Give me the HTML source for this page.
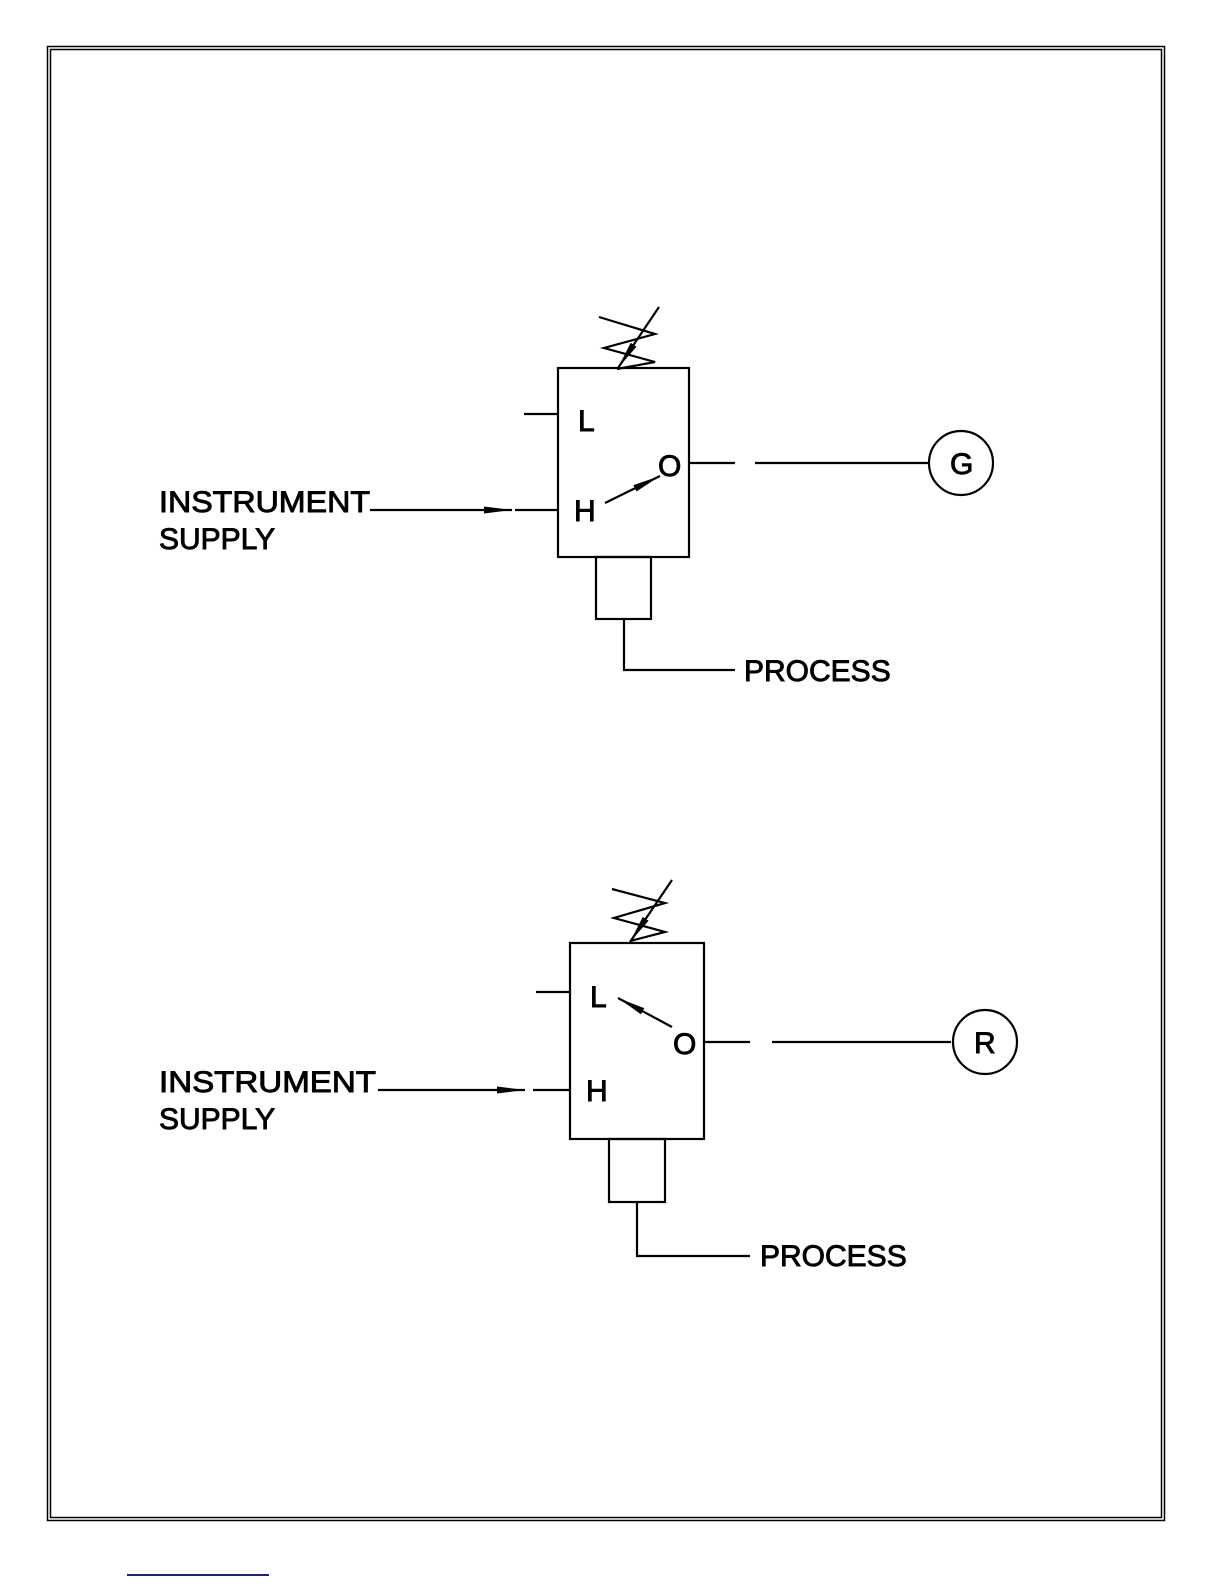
<!DOCTYPE html>
<html><head><style>body{margin:0;background:#fff}svg{display:block}</style></head><body>
<svg width="1224" height="1584" viewBox="0 0 1224 1584" xmlns="http://www.w3.org/2000/svg" font-family="Liberation Sans, Arial, sans-serif">
<rect x="47.5" y="46.5" width="1117" height="1474" fill="none" stroke="#000" stroke-width="1.5"/>
<rect x="50.5" y="49.5" width="1111" height="1468" fill="none" stroke="#000" stroke-width="1.5"/>
<line x1="127" y1="1575" x2="269" y2="1575" stroke="#1a237e" stroke-width="2"/>
<defs>
<marker id="b" markerWidth="28" markerHeight="10" refX="28" refY="5" orient="auto" markerUnits="userSpaceOnUse"><path d="M0,1.5 L28,5 L0,8.5z" fill="#000"/></marker></defs>
<g stroke="#000" stroke-width="2.2" fill="none">
<!-- top -->
<polyline points="599,317 655,334 604,348 655,362 617,369"/>
<line x1="659" y1="307" x2="618" y2="368" marker-end="url(#b)"/>
<rect x="558" y="368" width="131" height="189"/>
<line x1="524" y1="414" x2="558" y2="414"/>
<line x1="515" y1="510" x2="558" y2="510"/>
<line x1="370" y1="510" x2="512" y2="510" marker-end="url(#b)"/>
<line x1="605" y1="503" x2="660" y2="476" marker-end="url(#b)"/>
<line x1="689" y1="463" x2="735" y2="463"/>
<line x1="755" y1="463" x2="928" y2="463"/>
<circle cx="961" cy="463" r="32"/>
<rect x="596" y="557" width="55" height="62"/>
<polyline points="624,619 624,670 735,670"/>
<!-- bottom -->
<polyline points="612,889 665,903 614,918 665,932 630,941"/>
<line x1="672" y1="880" x2="630" y2="942" marker-end="url(#b)"/>
<rect x="570" y="943" width="134" height="196"/>
<line x1="536" y1="992" x2="570" y2="992"/>
<line x1="533" y1="1090" x2="570" y2="1090"/>
<line x1="378" y1="1090" x2="525" y2="1090" marker-end="url(#b)"/>
<line x1="672" y1="1027" x2="618" y2="998" marker-end="url(#b)"/>
<line x1="704" y1="1042" x2="750" y2="1042"/>
<line x1="772" y1="1042" x2="951" y2="1042"/>
<circle cx="985" cy="1042" r="32"/>
<rect x="609" y="1139" width="56" height="63"/>
<polyline points="637,1202 637,1256 750,1256"/>
</g>
<g font-size="30" fill="#000" stroke="#000" stroke-width="0.9">
<text x="159" y="512" textLength="211" lengthAdjust="spacingAndGlyphs">INSTRUMENT</text>
<text x="159" y="549">SUPPLY</text>
<text x="578" y="431">L</text>
<text x="574" y="521">H</text>
<text x="658" y="476">O</text>
<text x="950" y="474">G</text>
<text x="744" y="681">PROCESS</text>
<text x="159" y="1092" textLength="217" lengthAdjust="spacingAndGlyphs">INSTRUMENT</text>
<text x="159" y="1129">SUPPLY</text>
<text x="590" y="1007">L</text>
<text x="586" y="1101">H</text>
<text x="673" y="1054">O</text>
<text x="974" y="1053">R</text>
<text x="760" y="1266">PROCESS</text>
</g>
</svg>
</body></html>
